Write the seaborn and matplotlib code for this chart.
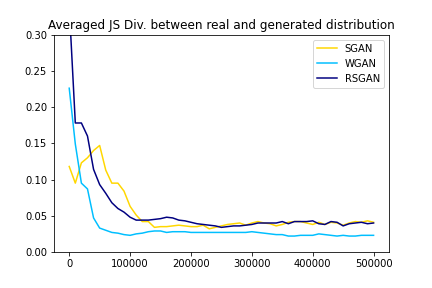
import numpy as np
import pandas as pd
import seaborn as sns
import matplotlib
matplotlib.use('Agg')
import matplotlib.pyplot as plt

# iteraciones cada 10000
steps = list(range(0, 510000, 10000))

sgan = [0.118, 0.095, 0.123, 0.130, 0.140, 0.147, 0.113, 0.095, 0.095, 0.084,
        0.063, 0.051, 0.042, 0.042, 0.034, 0.035, 0.035, 0.036, 0.037, 0.036,
        0.035, 0.035, 0.037, 0.032, 0.034, 0.036, 0.038, 0.039, 0.040, 0.037,
        0.040, 0.042, 0.040, 0.039, 0.036, 0.038, 0.041, 0.042, 0.042, 0.040,
        0.038, 0.041, 0.038, 0.041, 0.040, 0.037, 0.040, 0.042, 0.041, 0.043,
        0.041]

wgan = [0.226, 0.149, 0.095, 0.087, 0.047, 0.033, 0.030, 0.027, 0.026, 0.024,
        0.023, 0.025, 0.026, 0.028, 0.029, 0.029, 0.027, 0.028, 0.028, 0.028,
        0.027, 0.027, 0.027, 0.027, 0.027, 0.027, 0.027, 0.027, 0.027, 0.027,
        0.028, 0.027, 0.026, 0.025, 0.024, 0.024, 0.022, 0.022, 0.023, 0.023,
        0.023, 0.025, 0.024, 0.023, 0.022, 0.023, 0.022, 0.022, 0.023, 0.023,
        0.023]

rsgan = [0.340, 0.178, 0.178, 0.160, 0.114, 0.093, 0.081, 0.068, 0.060, 0.055,
         0.048, 0.044, 0.044, 0.044, 0.045, 0.046, 0.048, 0.047, 0.044, 0.043,
         0.041, 0.039, 0.038, 0.037, 0.036, 0.034, 0.035, 0.036, 0.036, 0.037,
         0.038, 0.040, 0.040, 0.040, 0.040, 0.042, 0.039, 0.042, 0.042, 0.042,
         0.043, 0.039, 0.038, 0.042, 0.041, 0.036, 0.039, 0.040, 0.041, 0.039,
         0.040]

models = ['SGAN', 'WGAN', 'RSGAN']
colores = ['gold', 'deepskyblue', 'navy']

df = pd.DataFrame({'step': steps * 3,
                   'js': sgan + wgan + rsgan,
                   'model': [m for m in models for _ in steps]})

fig, ax = plt.subplots(figsize=(6, 4), dpi=72)
fig.subplots_adjust(bottom=0.125, top=0.88)
sns.lineplot(data=df, x='step', y='js', hue='model', palette=colores, ax=ax)

ax.set_ylim(0, 0.30)
ax.set_xlabel('')
ax.set_ylabel('')
ax.set_title('Averaged JS Div. between real and generated distribution')
ax.legend(loc='upper right')

plt.savefig('out.png', dpi=72)
